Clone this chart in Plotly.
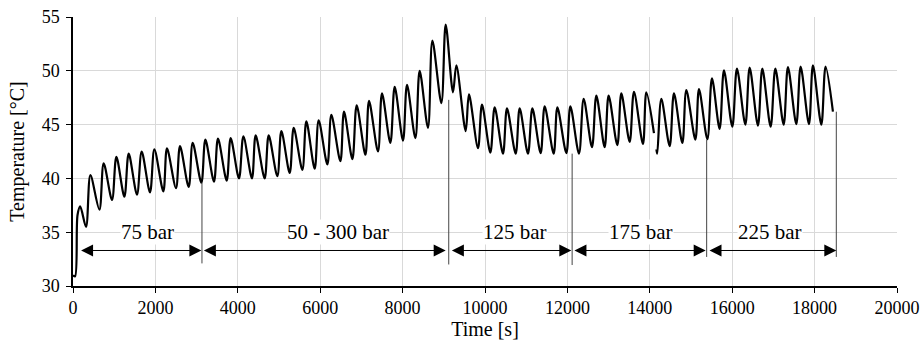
import plotly.graph_objects as go

# Extremes of the temperature record (time in s, temperature in °C)
time_s = [0, 50, 110, 175, 316, 422, 640, 745, 947, 1053, 1247, 1352, 1553, 1667, 1869, 1975,
          2193, 2281, 2500, 2597, 2808, 2905, 3116, 3213, 3422, 3519, 3730, 3827, 4029, 4136,
          4344, 4434, 4652, 4750, 4960, 5058, 5260, 5357, 5567, 5664, 5866, 5963, 6174, 6271,
          6490, 6578, 6781, 6886, 7097, 7185, 7403, 7500, 7703, 7808, 8010, 8107, 8310, 8414,
          8616, 8723, 8941, 9046, 9223, 9305, 9531, 9611, 9830, 9927, 10130, 10235, 10437,
          10534, 10745, 10842, 11043, 11150, 11351, 11448, 11667, 11757, 11975, 12072, 12281,
          12395, 12597, 12703, 12904, 13001, 13212, 13309, 13511, 13616, 13834, 13916, 14101,
          None,
          14160, 14180, 14280, 14482, 14587, 14790, 14887, 15106, 15194, 15397, 15509, 15695,
          15800, 16003, 16115, 16319, 16424, 16625, 16731, 16933, 17047, 17249, 17353, 17556,
          17661, 17863, 17960, 18163, 18267, 18445]
temp_c = [31.0, 30.9, 36.6, 37.4, 35.5, 40.3, 37.1, 41.4, 38.0, 42.0, 38.3, 42.3, 38.5, 42.5, 38.7, 42.7,
          38.8, 42.8, 39.1, 43.0, 39.2, 43.3, 39.6, 43.6, 39.7, 43.7, 39.8, 43.75, 40.0, 43.9,
          40.0, 44.0, 40.0, 44.0, 40.2, 44.4, 40.5, 44.7, 40.8, 45.3, 40.9, 45.4, 41.3, 45.9,
          41.6, 46.2, 41.8, 46.8, 42.2, 47.2, 42.5, 47.9, 43.3, 48.5, 43.5, 48.7, 43.75, 50.0,
          44.7, 52.8, 47.0, 54.3, 48.0, 50.5, 44.4, 47.8, 42.8, 46.85, 42.4, 46.6, 42.3,
          46.5, 42.3, 46.5, 42.3, 46.5, 42.35, 46.7, 42.3, 46.6, 42.35, 46.7, 42.3,
          47.4, 42.9, 47.7, 42.9, 47.7, 43.1, 47.9, 43.4, 48.05, 43.2, 48.0, 44.2,
          None,
          42.7, 42.3, 47.4, 43.0, 47.9, 43.3, 48.2, 43.6, 48.3, 43.65, 49.3, 44.6,
          50.05, 44.8, 50.2, 45.0, 50.3, 44.9, 50.2, 44.8, 50.2, 45.0, 50.35, 45.05,
          50.4, 45.05, 50.5, 45.0, 50.4, 46.2]

# Pressure phases
phase_labels = ["75 bar", "50 - 300 bar", "125 bar", "175 bar", "225 bar"]
phase_start = [160, 3140, 9160, 12135, 15412]
phase_end = [3116, 9046, 12095, 15356, 18527]
phase_label_x = [1820, 6430, 10720, 13790, 16910]
boundary_x = [3130, 9120, 12115, 15380, 18527]
boundary_top = [39.6, 47.3, 42.3, 43.6, 46.2]
boundary_bottom = [32.1, 32.0, 31.95, 32.7, 32.7]
arrow_y = 33.3
label_y = 35.05

x_ticks = list(range(0, 20001, 2000))
y_ticks = [30, 35, 40, 45, 50, 55]

FONT = "Liberation Serif"

fig = go.Figure()
fig.add_trace(go.Scatter(
    x=time_s, y=temp_c, mode="lines",
    line=dict(color="black", width=2.2, shape="spline", smoothing=0.9),
    connectgaps=False, showlegend=False, hoverinfo="skip"))

for xb, yt, yb in zip(boundary_x, boundary_top, boundary_bottom):
    fig.add_shape(type="line", xref="x", yref="y", x0=xb, x1=xb, y0=yb, y1=yt,
                  line=dict(color="#444444", width=1))

for xs, xe in zip(phase_start, phase_end):
    fig.add_annotation(x=xe, y=arrow_y, ax=xs, ay=arrow_y, xref="x", yref="y",
                       axref="x", ayref="y", text="", showarrow=True,
                       arrowhead=2, startarrowhead=2, arrowside="end+start",
                       arrowsize=2.4, startarrowsize=2.4, arrowwidth=1, arrowcolor="black")

for lbl, lx in zip(phase_labels, phase_label_x):
    fig.add_annotation(x=lx, y=label_y, xref="x", yref="y", text=lbl, showarrow=False,
                       font=dict(family=FONT, size=21, color="black"),
                       bgcolor="white", borderpad=0)

fig.update_layout(
    width=922, height=346,
    margin=dict(l=73, r=25, t=17, b=60),
    paper_bgcolor="white", plot_bgcolor="white",
    font=dict(family=FONT, size=18, color="black"),
    showlegend=False,
)
fig.update_xaxes(
    range=[0, 20000], tickvals=x_ticks, tickformat="d", automargin=False,
    showgrid=True, gridcolor="#d9d9d9", gridwidth=1, zeroline=False,
    showline=True, linecolor="black", linewidth=1.5,
    ticks="outside", ticklen=5, tickcolor="black",
    tickfont=dict(family=FONT, size=18),
    title=dict(text="Time [s]", font=dict(family=FONT, size=20), standoff=4),
)
fig.update_yaxes(
    range=[30, 55], tickvals=y_ticks, automargin=False,
    showgrid=True, gridcolor="#d9d9d9", gridwidth=1, zeroline=False,
    showline=True, linecolor="black", linewidth=1.5,
    ticks="outside", ticklen=5, tickcolor="black", ticklabelstandoff=3,
    tickfont=dict(family=FONT, size=18),
    title=dict(text="Temperature [°C]", font=dict(family=FONT, size=20), standoff=12),
)

fig.write_html("out.html")
